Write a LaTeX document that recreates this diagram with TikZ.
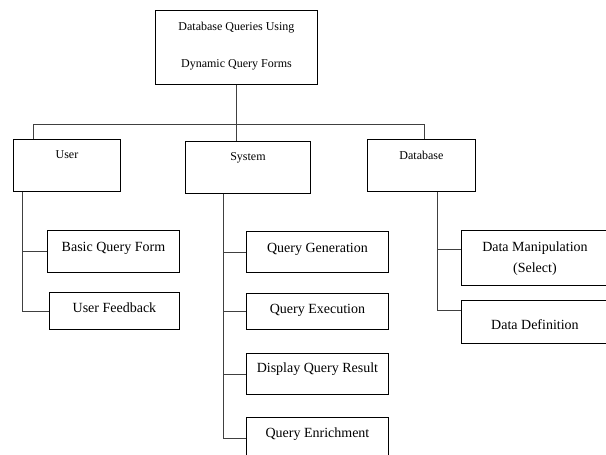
\documentclass[tikz,border=0pt]{standalone}
\usepackage{fontspec}
\setmainfont{Liberation Serif}
\usetikzlibrary{positioning,calc}

\begin{document}
\begin{tikzpicture}[x=1pt,y=-1pt,
    box/.style={draw,line width=.9pt,anchor=north west,inner sep=0pt,font=\fontsize{12}{14}\selectfont},
    leaf/.style={box,font=\fontsize{14}{16}\selectfont},
    conn/.style={line width=.9pt,black!75}]
    \clip (0,0) rectangle (606,455);

    \node[box,minimum width=162pt,text height=20pt,text depth=54pt] (top) at (155,10) {\begin{tabular}[t]{@{}c@{}}Database Queries Using\\[23pt]Dynamic Query Forms\end{tabular}};

    \node[box,minimum width=107pt,text height=19.5pt,text depth=32.5pt] (user) at (13,139) {User};
    \node[box,minimum width=125pt,text height=19.5pt,text depth=32.5pt] (sys) at (185,141) {System};
    \node[box,minimum width=108pt,text height=20.5pt,text depth=31.5pt] (db) at (367,139) {Database};

    \node[leaf,minimum width=132pt,text height=21pt,text depth=21pt] (basic) at (47,230) {Basic Query Form};
    \node[leaf,minimum width=130pt,text height=19.7pt,text depth=17.3pt] (fb) at (49,292) {User Feedback};

    \node[leaf,minimum width=142pt,text height=20.7pt,text depth=20.3pt] (qgen) at (246,231) {Query Generation};
    \node[leaf,minimum width=142pt,text height=20.3pt,text depth=15.7pt] (qexec) at (246,293) {Query Execution};
    \node[leaf,minimum width=142pt,text height=19.5pt,text depth=21.5pt] (disp) at (246,353) {Display Query Result};
    \node[leaf,minimum width=142pt,text height=19.7pt,text depth=22.3pt] (enr) at (246,417) {Query Enrichment};

    \node[leaf,minimum width=147pt,text height=21pt,text depth=34pt] (manip) at (461,230) {\begin{tabular}[t]{@{}c@{}}Data Manipulation\\[5pt](Select)\end{tabular}};
    \node[leaf,minimum width=147pt,text height=29.5pt,text depth=13.5pt] (def) at (461,300) {Data Definition};

    % top level bar
    \coordinate (barl) at (33,124);
    \coordinate (barr) at (424,124);
    \draw[conn] (top.south) -- (top.south |- sys.north);
    \draw[conn] (barl |- user.north) -- (barl) -- (barr) -- (barr |- db.north);

    % user branch
    \coordinate (us) at ([xshift=9pt]user.south west);
    \draw[conn] (us) |- (fb.west);
    \draw[conn] (us |- basic.west) -- (basic.west);

    % system branch
    \coordinate (ss) at ([xshift=38.5pt]sys.south west);
    \draw[conn] (ss) |- (enr.west);
    \foreach \n in {qgen,qexec,disp}
      \draw[conn] (ss |- \n.west) -- (\n.west);

    % database branch
    \coordinate (ds) at ([xshift=70pt]db.south west);
    \coordinate (mw) at ([yshift=8.5pt]manip.west);
    \coordinate (dw) at ([yshift=11.5pt]def.west);
    \draw[conn] (ds) |- (dw);
    \draw[conn] (ds |- mw) -- (mw);
\end{tikzpicture}
\end{document}
